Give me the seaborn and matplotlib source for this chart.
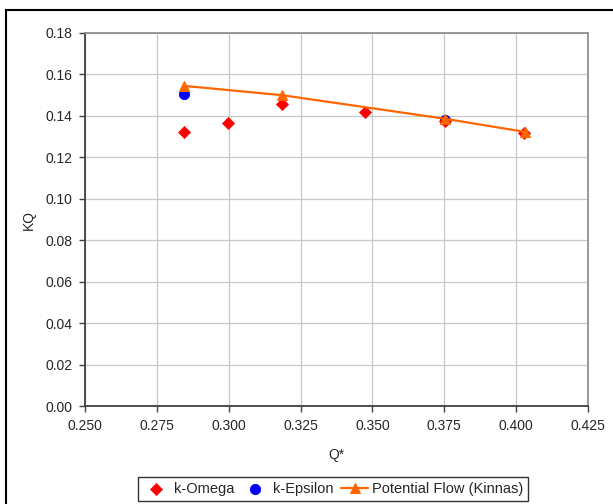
import matplotlib
matplotlib.use("Agg")
import matplotlib.pyplot as plt
from matplotlib.patches import Rectangle
import seaborn as sns
import pandas as pd

sns.set_style("white")
plt.rcParams['font.family'] = ['Liberation Sans', 'DejaVu Sans']

# k-Omega results
q_omega = [0.2844, 0.2998, 0.3185, 0.3474, 0.3753, 0.4027]
kq_omega = [0.1323, 0.1366, 0.1458, 0.1420, 0.1375, 0.1318]

# k-Epsilon results
q_eps = [0.2844, 0.3753]
kq_eps = [0.1507, 0.1382]

# potential flow (Kinnas)
q_pot = [0.2844, 0.3185, 0.3753, 0.4030]
kq_pot = [0.1545, 0.1500, 0.1386, 0.1323]

x_ticks = [0.250, 0.275, 0.300, 0.325, 0.350, 0.375, 0.400, 0.425]
y_ticks = [0.00, 0.02, 0.04, 0.06, 0.08, 0.10, 0.12, 0.14, 0.16, 0.18]

df_omega = pd.DataFrame({'Q': q_omega, 'KQ': kq_omega})
df_eps = pd.DataFrame({'Q': q_eps, 'KQ': kq_eps})
df_pot = pd.DataFrame({'Q': q_pot, 'KQ': kq_pot})

fig = plt.figure(figsize=(6.13, 5.04), dpi=100)
ax = fig.add_axes([85 / 613, 98 / 504, 503 / 613, 373 / 504])

sns.lineplot(data=df_pot, x='Q', y='KQ', ax=ax, color='#ff6600', linewidth=1.6,
             marker='^', markersize=7, markeredgecolor='#ff6600',
             label='Potential Flow (Kinnas)', zorder=4)
sns.scatterplot(data=df_omega, x='Q', y='KQ', ax=ax, color='red', marker='D',
                s=38, edgecolor='red', label='k-Omega', zorder=3)
sns.scatterplot(data=df_eps, x='Q', y='KQ', ax=ax, color='blue', marker='o',
                s=55, edgecolor='blue', label='k-Epsilon', zorder=2)

ax.set_xlim(0.25, 0.425)
ax.set_ylim(0, 0.18)
ax.set_xticks(x_ticks)
ax.set_xticklabels([f'{v:.3f}' for v in x_ticks])
ax.set_yticks(y_ticks)
ax.set_yticklabels([f'{v:.2f}' for v in y_ticks])
ax.grid(True, color='#c8c8c8', linewidth=0.9)
ax.set_axisbelow(True)
ax.tick_params(axis='both', direction='out', length=4, width=1, color='#404040',
               labelsize=10, pad=5, bottom=True, left=True)
for side in ['left', 'bottom']:
    ax.spines[side].set_color('#404040')
    ax.spines[side].set_linewidth(1.3)
for side in ['top', 'right']:
    ax.spines[side].set_color('#909090')
    ax.spines[side].set_linewidth(1.3)

ax.set_xlabel('Q*', fontsize=10, labelpad=11)
ax.set_ylabel('KQ', fontsize=10, labelpad=7)

handles, labels = ax.get_legend_handles_labels()
order = [labels.index('k-Omega'), labels.index('k-Epsilon'),
         labels.index('Potential Flow (Kinnas)')]
ax.legend_.remove()
leg = fig.legend([handles[i] for i in order], [labels[i] for i in order],
                 loc='center', bbox_to_anchor=(333 / 613, 1 - 489 / 504),
                 ncol=3, frameon=True, fancybox=False, fontsize=10.5,
                 handlelength=1.9, columnspacing=0.5, handletextpad=0.25,
                 borderpad=0.35, borderaxespad=0)
leg.get_frame().set_edgecolor('black')
leg.get_frame().set_linewidth(1.0)

# outer chart border
fig.patches.append(Rectangle((6 / 613, -0.1), 1.2, 1 - 10 / 504 + 0.1,
                             transform=fig.transFigure, fill=False,
                             edgecolor='black', linewidth=1.5))

fig.savefig('out.png', dpi=100)
